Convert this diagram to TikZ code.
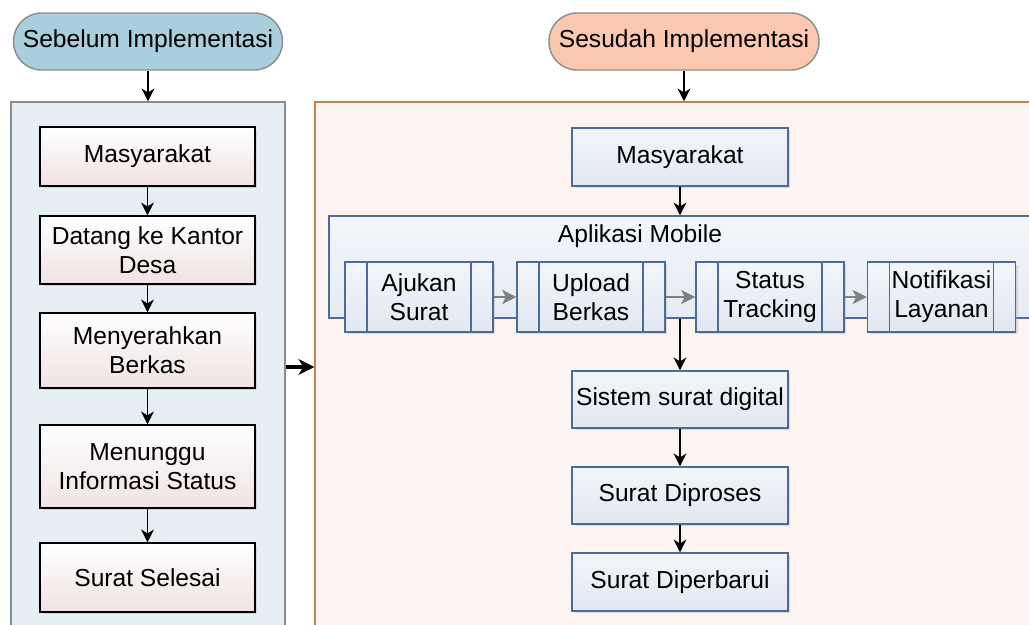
\documentclass[tikz,border=0pt]{standalone}
\usepackage{fontspec}
\setmainfont{Liberation Sans}
\usetikzlibrary{positioning, arrows.meta, shadows}

\definecolor{preblue}{HTML}{A9CFDD}
\definecolor{postpeach}{HTML}{F9C8AF}
\definecolor{prebg}{HTML}{E6EFF3}
\definecolor{preline}{HTML}{8C8C8C}
\definecolor{postbg}{HTML}{FDF4F1}
\definecolor{postline}{HTML}{C6834F}
\definecolor{boxpink}{HTML}{F0E2E2}
\definecolor{boxblue}{HTML}{E1E7F2}
\definecolor{appline}{HTML}{4A6C98}
\definecolor{appbg}{HTML}{E6EBF4}

\begin{document}
\begin{tikzpicture}[
    x=0.02cm, y=-0.02cm,
    every node/.style={font=\fontsize{14}{16.4}\selectfont, align=center, inner sep=2pt},
    pill/.style={draw=preline, line width=0.8pt, rounded corners=0.56cm, minimum width=5.38cm, minimum height=1.14cm},
    lane/.style={line width=0.9pt, minimum height=10.6cm},
    soft/.style={drop shadow={shadow xshift=0.05cm, shadow yshift=-0.05cm, opacity=0.35, fill=black!35}},
    oldbox/.style={draw=black, line width=0.85pt, top color=white, bottom color=boxpink, minimum width=4.3cm, soft},
    newbox/.style={draw=appline, line width=0.85pt, top color=white!60!boxblue, bottom color=boxblue, minimum width=4.32cm, soft},
    subproc/.style={newbox, minimum width=2.96cm, minimum height=1.4cm,
      path picture={
        \draw[appline, line width=0.85pt]
          ([xshift=0.44cm]path picture bounding box.north west) -- ([xshift=0.44cm]path picture bounding box.south west)
          ([xshift=-0.44cm]path picture bounding box.north east) -- ([xshift=-0.44cm]path picture bounding box.south east);
      }},
    arr/.style={-{Stealth[length=7.2pt, width=7.2pt, inset=2.2pt]}, line width=0.95pt},
    garr/.style={-{Stealth[length=8pt, width=8pt, inset=2pt]}, draw=gray, line width=1.4pt},
    bigarr/.style={-{Stealth[length=9pt, width=9pt, inset=2.8pt]}, line width=2pt}
  ]
  \clip (0,0) rectangle (1029,625);

  % sebelum
  \node[pill, fill=preblue] (pre) at (148,41.5) {Sebelum Implementasi};
  \node[lane, draw=preline, fill=prebg, minimum width=5.48cm] (lanePre) at (148,367) {};
  \node[oldbox, minimum height=1.18cm] (o1) at (147.5,156.5) {Masyarakat};
  \node[oldbox, minimum height=1.36cm] (o2) at (147.5,250) {Datang ke Kantor\\Desa};
  \node[oldbox, minimum height=1.5cm] (o3) at (147.5,350.5) {Menyerahkan\\Berkas};
  \node[oldbox, minimum height=1.66cm] (o4) at (147.5,466.5) {Menunggu\\Informasi Status};
  \node[oldbox, minimum height=1.38cm] (o5) at (147.5,577.5) {Surat Selesai};

  % sesudah
  \node[pill, fill=postpeach, minimum width=5.4cm] (post) at (684,41.5) {Sesudah Implementasi};
  \node[lane, draw=postline, fill=postbg, minimum width=14.6cm] (lanePost) at (680,367) {};
  \node[newbox, minimum height=1.16cm] (n1) at (680,157) {Masyarakat};
  \node[draw=appline, line width=0.85pt, top color=white!50!appbg, bottom color=appbg,
    minimum width=14.32cm, minimum height=2.04cm] (app) at (687,267) {};
  \node[inner sep=0pt] (appName) at (640,236) {Aplikasi Mobile};
  \node[subproc] (s1) at (419,297) {Ajukan\\Surat};
  \node[subproc] (s2) at (591,297) {Upload\\Berkas};
  \node[subproc] (s3) at (770,297) {Status\\Tracking};
  \node[subproc] (s4) at (941.5,297) {Notifikasi\\Layanan};
  \node[newbox, minimum height=1.14cm] (n2) at (680,399.5) {Sistem surat digital};
  \node[newbox, minimum height=1.14cm] (n3) at (680,495.5) {Surat Diproses};
  \node[newbox, minimum height=1.16cm] (n4) at (680,582) {Surat Diperbarui};

  \draw[arr] (pre) -- (lanePre);
  \draw[arr] (o1) -- (o2);
  \draw[arr] (o2) -- (o3);
  \draw[arr] (o3) -- (o4);
  \draw[arr] (o4) -- (o5);
  \draw[bigarr] (lanePre.east) -- (lanePost.west);

  \draw[arr] (post.south) -- (post.south |- lanePost.north);
  \draw[arr] (n1) -- (n1.south |- app.north);
  \draw[garr] (s1) -- (s2);
  \draw[garr] (s2) -- (s3);
  \draw[garr] (s3) -- (s4);
  \draw[arr] (n2.north |- app.south) -- (n2);
  \draw[arr] (n2) -- (n3);
  \draw[arr] (n3) -- (n4);
\end{tikzpicture}
\end{document}
